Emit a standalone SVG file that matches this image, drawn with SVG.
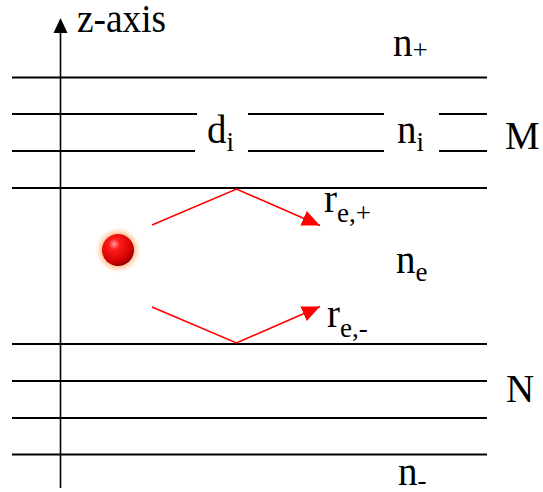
<svg xmlns="http://www.w3.org/2000/svg" width="543" height="492" viewBox="0 0 543 492">
<defs>
<style>
.ln{stroke:#000;stroke-width:2.2;fill:none}
.ax{stroke:#000;stroke-width:1.6;fill:none}
.ray{stroke:#f00;stroke-width:1.6;fill:none}
text{font-family:"Liberation Serif","Times New Roman",serif;fill:#000}
.big{font-size:39px}
.sub{font-size:27px}
</style>
<marker id="ah" markerUnits="userSpaceOnUse" markerWidth="20" markerHeight="16" viewBox="0 0 20 16" refX="18" refY="8" orient="auto">
<path d="M0,0 L18,8 L0,16 Z" fill="#f00"/>
</marker>
<radialGradient id="glow" cx="0.5" cy="0.5" r="0.5">
<stop offset="0.6" stop-color="#ff8a3a" stop-opacity="0.8"/>
<stop offset="1" stop-color="#ffd0a0" stop-opacity="0"/>
</radialGradient>
<radialGradient id="ballg" cx="0.38" cy="0.32" r="0.7">
<stop offset="0" stop-color="#ff9a9a"/>
<stop offset="0.25" stop-color="#ff1a1a"/>
<stop offset="0.8" stop-color="#d00000"/>
<stop offset="1" stop-color="#8a0000"/>
</radialGradient>
</defs>
<g id="layers">
<line class="ln" x1="12" y1="77.5" x2="487" y2="77.5"/>
<line class="ln" x1="12" y1="114" x2="197" y2="114"/>
<line class="ln" x1="248" y1="114" x2="384" y2="114"/>
<line class="ln" x1="439" y1="114" x2="487" y2="114"/>
<line class="ln" x1="12" y1="151" x2="195" y2="151"/>
<line class="ln" x1="248" y1="151" x2="384" y2="151"/>
<line class="ln" x1="439" y1="151" x2="487" y2="151"/>
<line class="ln" x1="12" y1="188" x2="487" y2="188"/>
<line class="ln" x1="12" y1="344" x2="487" y2="344"/>
<line class="ln" x1="12" y1="381" x2="487" y2="381"/>
<line class="ln" x1="12" y1="418" x2="487" y2="418"/>
<line class="ln" x1="12" y1="454.5" x2="487" y2="454.5"/>
</g>
<g id="axis">
<line class="ax" x1="60.5" y1="488" x2="60.5" y2="30"/>
<path d="M60.5,18 L67.5,33 L53.5,33 Z" fill="#000"/>
<text class="big" x="77" y="32" textLength="89" lengthAdjust="spacingAndGlyphs">z-axis</text>
</g>
<g id="particle">
<circle cx="118" cy="250" r="23" fill="url(#glow)"/>
<circle cx="118" cy="250" r="16" fill="url(#ballg)"/>
</g>
<g id="connectors">
<polyline class="ray" points="152,225 236.5,189 320,225.5" marker-end="url(#ah)"/>
<polyline class="ray" points="152,307 236.5,343 320,306.5" marker-end="url(#ah)"/>
</g>
<g id="labels">
<text x="393" y="56"><tspan class="big">n</tspan><tspan class="sub" dy="3">+</tspan></text>
<text x="207" y="143"><tspan class="big">d</tspan><tspan class="sub" dy="8">i</tspan></text>
<text x="397" y="143"><tspan class="big">n</tspan><tspan class="sub" dy="8">i</tspan></text>
<text class="big" x="505" y="149">M</text>
<text x="324" y="212"><tspan class="big">r</tspan><tspan class="sub" dy="10">e,+</tspan></text>
<text x="396" y="273"><tspan class="big">n</tspan><tspan class="sub" dy="8">e</tspan></text>
<text x="327" y="327"><tspan class="big">r</tspan><tspan class="sub" dy="10">e,-</tspan></text>
<text class="big" x="506" y="402">N</text>
<text x="398" y="485"><tspan class="big">n</tspan><tspan class="sub" dy="4">-</tspan></text>
</g>
</svg>
